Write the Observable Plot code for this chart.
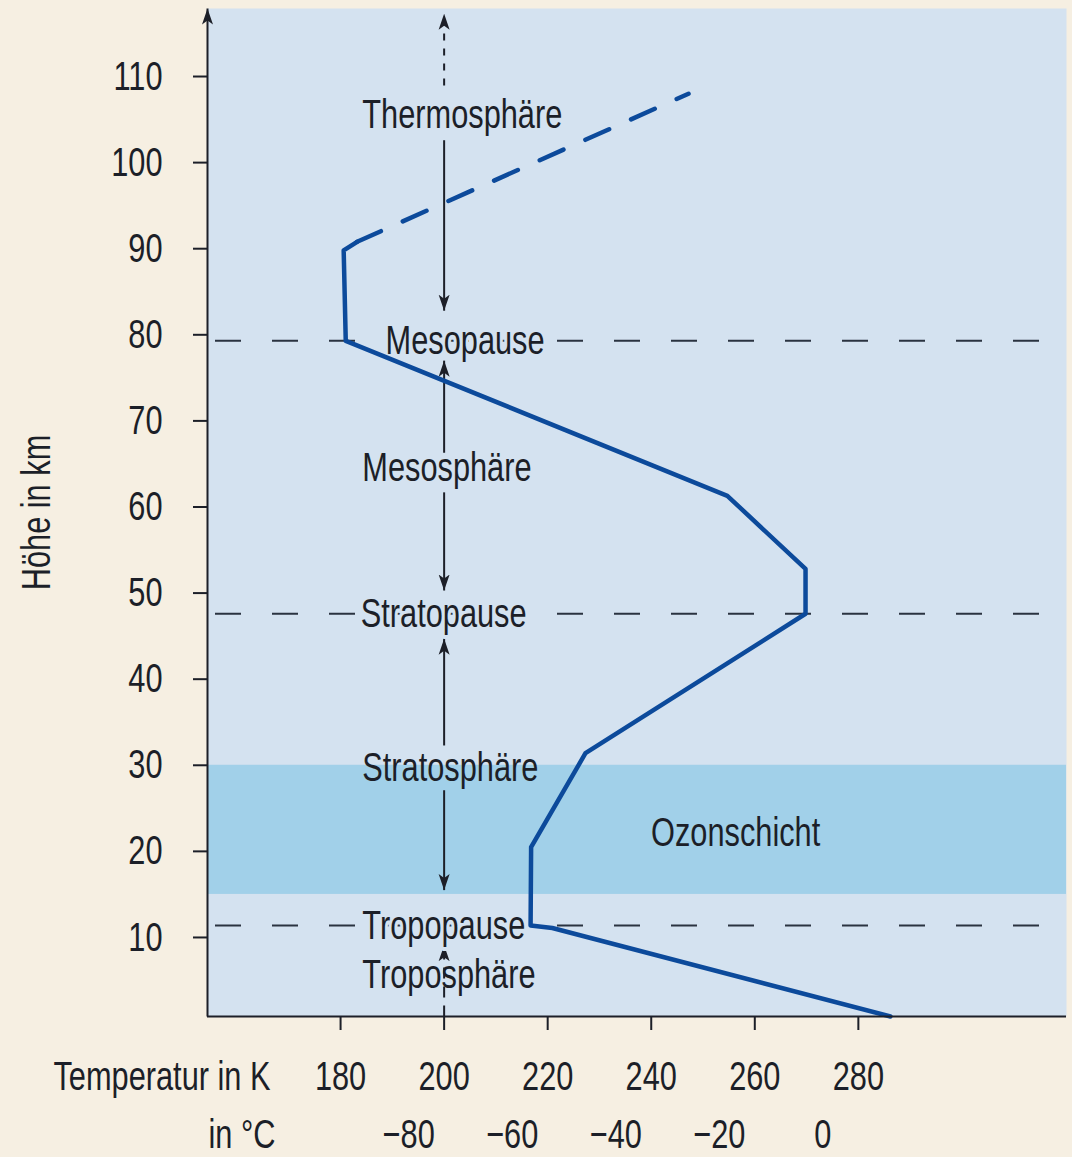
<!DOCTYPE html>
<html><head><meta charset="utf-8">
<script src="https://cdn.jsdelivr.net/npm/d3@7"></script>
<script src="https://cdn.jsdelivr.net/npm/@observablehq/plot@0.6"></script>
<style>
html,body{margin:0;padding:0;background:#f6efe2;}
#chart svg{display:block;}
</style></head><body><div id="chart"></div>
<script>
// ---- data ----
const profileTemp   = [286.2, 220.9, 216.7, 216.8, 227.3, 269.8, 269.8, 254.7, 181.0, 180.6, 183.2];
const profileHeight = [0.82, 11.1, 11.4, 20.5, 31.4, 47.6, 52.8, 61.3, 79.3, 89.8, 90.8];
const thermoTemp    = [183.2, 247.2];
const thermoHeight  = [90.8, 108.0];
const pauseNames    = ["Tropopause", "Stratopause", "Mesopause"];
const pauseHeights  = [11.4, 47.6, 79.3];
const pauseLabelTemp = [184.2, 183.9, 188.7];
const layerNames    = ["Troposphäre", "Stratosphäre", "Mesosphäre", "Thermosphäre"];
const layerHeights  = [5.6, 29.7, 64.6, 105.5];
const layerLabelTemp = [184.2, 184.2, 184.2, 184.2];
const ozoneName     = "Ozonschicht";
const ozoneRange    = [15, 30];
const ozoneLabel    = [256.3, 22.1];
const arrowTemp     = 200;
const solidArrowFrom = [102.6, 66.3, 61.7, 32.3, 27.1];
const solidArrowTo   = [82.8, 77.0, 50.3, 44.7, 15.5];
const dottedArrowFrom = [108.96];
const dottedArrowTo   = [117.3];
const dashedArrowFrom = [0.82];
const dashedArrowTo   = [9.1];
const heightTicks  = [10, 20, 30, 40, 50, 60, 70, 80, 90, 100, 110];
const kelvinTicks  = [180, 200, 220, 240, 260, 280];
const celsiusTicks = [-80, -60, -40, -20, 0];
const xDomain = [154.3, 320.2];
const yDomain = [0.82, 117.9];
const yLabel = "Höhe in km";
const kelvinTitle = "Temperatur in K";
const celsiusTitle = "in °C";

// ---- style ----
const FONT = '"Liberation Sans",Arial,sans-serif';
const INK = "#1c1f28";
const BG = "#d4e2f0";
const LINE = "#0c4a9b";
const FS = 41;
const SQUEEZE = 0.75;

const head = (color) => d3.create("svg:marker")
  .attr("viewBox", "-16 -6 16 12")
  .attr("markerWidth", 16).attr("markerHeight", 12)
  .attr("markerUnits", "userSpaceOnUse")
  .attr("orient", "auto")
  .call(m => m.append("path").attr("d", "M-16,-5.5L0,0L-16,5.5L-12,0Z").attr("fill", color).attr("stroke", "none"))
  .node();

const idx = a => a.map((_, i) => i);
const fmtC = d => { const c = Math.round(d - 273.15); return c < 0 ? "\u2212" + Math.abs(c) : String(c); };

const chart = Plot.plot({
  width: 1072, height: 1157,
  marginLeft: 207, marginRight: 6, marginTop: 8, marginBottom: 141,
  x: {domain: xDomain},
  y: {domain: yDomain},
  style: {fontFamily: FONT, background: "transparent", color: INK, overflow: "visible"},
  marks: [
    Plot.frame({fill: BG, stroke: "none"}),
    Plot.rect([ozoneRange], {y1: d => d[0], y2: d => d[1], fill: "#a1d0e9"}),
    Plot.ruleY(pauseHeights, {stroke: "#2a3340", strokeWidth: 2, strokeDasharray: "26,31", insetLeft: 8, insetRight: 16}),
    Plot.link(idx(solidArrowFrom), {x1: arrowTemp, x2: arrowTemp, y1: i => solidArrowFrom[i], y2: i => solidArrowTo[i], stroke: INK, strokeWidth: 2, markerEnd: head}),
    Plot.link(idx(dottedArrowFrom), {x1: arrowTemp, x2: arrowTemp, y1: i => dottedArrowFrom[i], y2: i => dottedArrowTo[i], stroke: INK, strokeWidth: 2, strokeDasharray: "7,8", markerEnd: head}),
    Plot.link(idx(dashedArrowFrom), {x1: arrowTemp, x2: arrowTemp, y1: i => dashedArrowFrom[i], y2: i => dashedArrowTo[i], stroke: INK, strokeWidth: 2, strokeDasharray: "11,8", markerEnd: head}),
    Plot.text(idx(pauseNames), {x: i => pauseLabelTemp[i], y: i => pauseHeights[i], text: i => pauseNames[i], textAnchor: "start", fontSize: FS, fill: INK, stroke: BG, strokeWidth: 8}),
    Plot.text(idx(layerNames), {x: i => layerLabelTemp[i], y: i => layerHeights[i], text: i => layerNames[i], textAnchor: "start", fontSize: FS, fill: INK}),
    Plot.text([ozoneName], {x: ozoneLabel[0], y: ozoneLabel[1], fontSize: FS, fill: INK}),
    Plot.line(idx(profileTemp), {x: i => profileTemp[i], y: i => profileHeight[i], stroke: LINE, strokeWidth: 4.5, strokeLinejoin: "round"}),
    Plot.line(idx(thermoTemp), {x: i => thermoTemp[i], y: i => thermoHeight[i], stroke: LINE, strokeWidth: 4.5, strokeDasharray: "26,24"}),
    Plot.link([0], {x1: xDomain[0], x2: xDomain[0], y1: yDomain[0], y2: yDomain[1], stroke: INK, strokeWidth: 2, markerEnd: head}),
    Plot.ruleY([yDomain[0]], {stroke: INK, strokeWidth: 2}),
    Plot.axisY({ticks: heightTicks, tickSize: 14, tickPadding: 31, fontSize: FS, strokeWidth: 2, label: yLabel, labelAnchor: "center", labelOffset: 187, labelArrow: "none"}),
    Plot.axisX({ticks: kelvinTicks, tickSize: 14, tickPadding: 30, fontSize: FS, strokeWidth: 2, label: null}),
    Plot.axisX({ticks: celsiusTicks.map(c => c + 273.15), tickFormat: fmtC, tickSize: 0, tickPadding: 102, fontSize: FS, label: null}),
    Plot.text([kelvinTitle], {frameAnchor: "bottom-left", dx: 63, dy: 44, textAnchor: "end", lineAnchor: "top", fontSize: FS, fill: INK}),
    Plot.text([celsiusTitle], {frameAnchor: "bottom-left", dx: 68, dy: 102, textAnchor: "end", lineAnchor: "top", fontSize: FS, fill: INK})
  ]
});
document.getElementById("chart").append(chart);
// condensed lettering, like the original's narrow typeface:
// squeeze each text to SQUEEZE of its natural width, keeping its anchor point
chart.querySelectorAll("text").forEach(t => {
  const len = t.getComputedTextLength();
  if (!(len > 0)) return;
  const anchor = getComputedStyle(t).textAnchor;
  const L = len * SQUEEZE;
  const off = anchor === "end" ? -L : anchor === "middle" ? -L / 2 : 0;
  const x0 = +(t.getAttribute("x") || 0);
  t.setAttribute("text-anchor", "start");
  t.setAttribute("x", (x0 + off).toFixed(2));
  t.setAttribute("textLength", L.toFixed(2));
  t.setAttribute("lengthAdjust", "spacingAndGlyphs");
});
</script>
</body></html>
